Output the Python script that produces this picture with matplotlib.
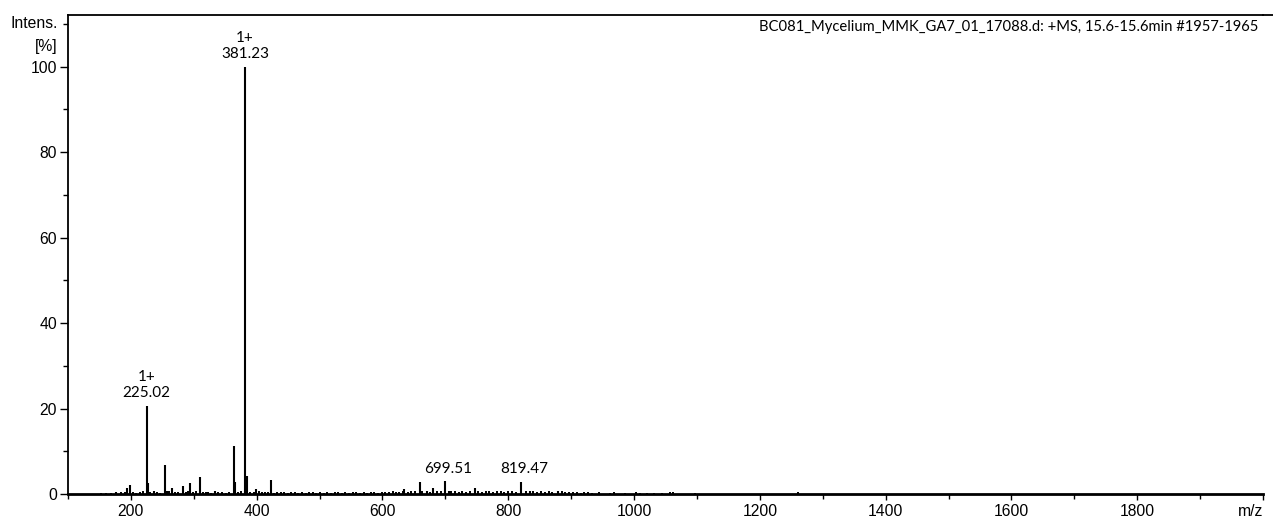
import matplotlib
matplotlib.use("Agg")
import matplotlib.pyplot as plt
from matplotlib.ticker import MultipleLocator, FixedLocator, FixedFormatter

plt.rcParams["font.family"] = ["Liberation Sans", "DejaVu Sans"]
plt.rcParams["font.size"] = 11.3

# ---- data ----
peak_mz = [177, 194, 199, 225.02, 227, 236, 253.7, 257.5, 265.5, 282.3, 294.5,
           310.4, 322.6, 334, 363.3, 365, 381.23, 384.6, 399, 422.8, 635, 659,
           670.6, 681, 699.51, 705, 747, 819.47, 835, 879]
peak_int = [0.5, 1.3, 2.1, 20.7, 2.5, 0.6, 6.8, 0.7, 1.4, 1.9, 2.5,
            3.9, 0.5, 0.6, 11.2, 2.9, 100.0, 4.2, 1.1, 3.3, 1.1, 2.9,
            0.7, 1.3, 3.1, 0.8, 1.4, 2.7, 0.6, 0.7]

noise_mz = [152, 160, 168, 185, 190, 203, 208, 214, 219, 231, 241, 246, 260,
            270, 275, 287, 291, 299, 304, 315, 319, 327, 338, 345, 351, 356,
            371, 375, 389, 395, 404, 409, 414, 418, 427, 433, 439, 444, 449,
            455, 461, 466, 472, 478, 483, 489, 495, 501, 507, 512, 518, 524,
            530, 535, 541, 547, 553, 558, 564, 570, 576, 581, 587, 593, 599,
            604, 610, 616, 622, 627, 633, 640, 645, 651, 663, 676, 687, 693,
            709, 715, 721, 727, 733, 739, 752, 758, 764, 770, 776, 782, 788,
            794, 800, 806, 812, 828, 840, 846, 852, 858, 864, 870, 885, 891,
            897, 903, 909, 915, 921, 927, 933, 945, 962, 968, 985, 1003, 1009,
            1021, 1032, 1044, 1057, 1062, 1097, 1261]
noise_int = [0.2, 0.3, 0.2, 0.4, 0.5, 0.4, 0.3, 0.5, 0.6, 0.4, 0.5, 0.3, 0.6,
             0.5, 0.4, 0.5, 0.6, 0.4, 0.7, 0.5, 0.4, 0.3, 0.5, 0.4, 0.3, 0.5,
             0.4, 0.6, 0.5, 0.4, 0.6, 0.5, 0.4, 0.5, 0.3, 0.4, 0.5, 0.4, 0.3,
             0.4, 0.5, 0.3, 0.4, 0.3, 0.5, 0.4, 0.3, 0.4, 0.3, 0.4, 0.3, 0.5,
             0.4, 0.3, 0.4, 0.3, 0.4, 0.5, 0.3, 0.4, 0.3, 0.4, 0.5, 0.3, 0.4,
             0.5, 0.4, 0.6, 0.5, 0.4, 0.6, 0.5, 0.6, 0.7, 0.6, 0.5, 0.7, 0.6,
             0.6, 0.7, 0.5, 0.6, 0.5, 0.7, 0.6, 0.5, 0.6, 0.7, 0.5, 0.6, 0.7,
             0.5, 0.6, 0.7, 0.5, 0.7, 0.6, 0.5, 0.6, 0.5, 0.6, 0.5, 0.6, 0.5,
             0.4, 0.5, 0.4, 0.3, 0.4, 0.5, 0.3, 0.4, 0.3, 0.4, 0.3, 0.4, 0.3,
             0.3, 0.3, 0.3, 0.4, 0.4, 0.3, 0.5]

labels = [(225.02, "1+\n225.02"), (381.23, "1+\n381.23"),
          (699.51, "699.51"), (819.47, "819.47")]

x_major = [200, 400, 600, 800, 1000, 1200, 1400, 1600, 1800, 2000]
x_major_labels = ["200", "400", "600", "800", "1000", "1200", "1400", "1600", "1800", "m/z"]
y_major = [0, 20, 40, 60, 80, 100]

title = "BC081_Mycelium_MMK_GA7_01_17088.d: +MS, 15.6-15.6min #1957-1965"

# ---- figure ----
W, H = 1273, 522
fig = plt.figure(figsize=(W / 100, H / 100), dpi=100)
L, R, T, B = 68, 1263, 15, 494
ax = fig.add_axes([L / W, 1 - B / H, (R - L) / W, (B - T) / H])

ax.vlines(noise_mz, 0, noise_int, color="black", lw=1.4)
ax.vlines(peak_mz, 0, peak_int, color="black", lw=1.5)

ax.set_xlim(100, 2000)
ax.set_ylim(0, 112.1)

ax.spines["right"].set_visible(False)
for s in ["left", "bottom", "top"]:
    ax.spines[s].set_linewidth(1.3)
ax.spines["bottom"].set_linewidth(2.0)

ax.xaxis.set_major_locator(FixedLocator(x_major))
ax.xaxis.set_major_formatter(FixedFormatter(x_major_labels))
ax.xaxis.set_minor_locator(MultipleLocator(100))
ax.yaxis.set_major_locator(FixedLocator(y_major))
ax.yaxis.set_minor_locator(FixedLocator([10, 30, 50, 70, 90, 110]))

ax.tick_params(axis="x", which="major", direction="out", length=4.5, width=1.0, pad=2.5)
ax.tick_params(axis="x", which="minor", direction="out", length=3.5, width=1.0)
ax.tick_params(axis="y", which="major", direction="out", length=6, width=1.0, pad=2)
ax.tick_params(axis="y", which="minor", direction="out", length=3.6, width=1.0)

fig.canvas.draw()
ax.get_xticklabels()[-1].set_horizontalalignment("right")

# Intens. / [%] axis caption
fig.text(58 / W, 1 - 23 / H, "Intens.", ha="right", va="center")
fig.text(58 / W, 1 - 46 / H, "[%]", ha="right", va="center")

# top line extends to figure edge
fig.add_artist(plt.Line2D([R / W, 1.0], [1 - T / H, 1 - T / H], color="black", lw=1.3))

# title
fig.text(1258 / W, 1 - 27 / H, title, ha="right", va="center", family="Lato", fontsize=10.65)

# peak annotations
offsets = {225.02: (0, 4), 381.23: (0, 4), 699.51: (2.5, 3.5), 819.47: (3, 4.5)}
for mz, txt in labels:
    i = peak_mz.index(mz)
    ax.annotate(txt, xy=(mz, peak_int[i]), xytext=offsets[mz], textcoords="offset points",
                ha="center", va="bottom", multialignment="center",
                family="Lato", fontsize=11, linespacing=1.2)

fig.savefig("out.png", dpi=100)
